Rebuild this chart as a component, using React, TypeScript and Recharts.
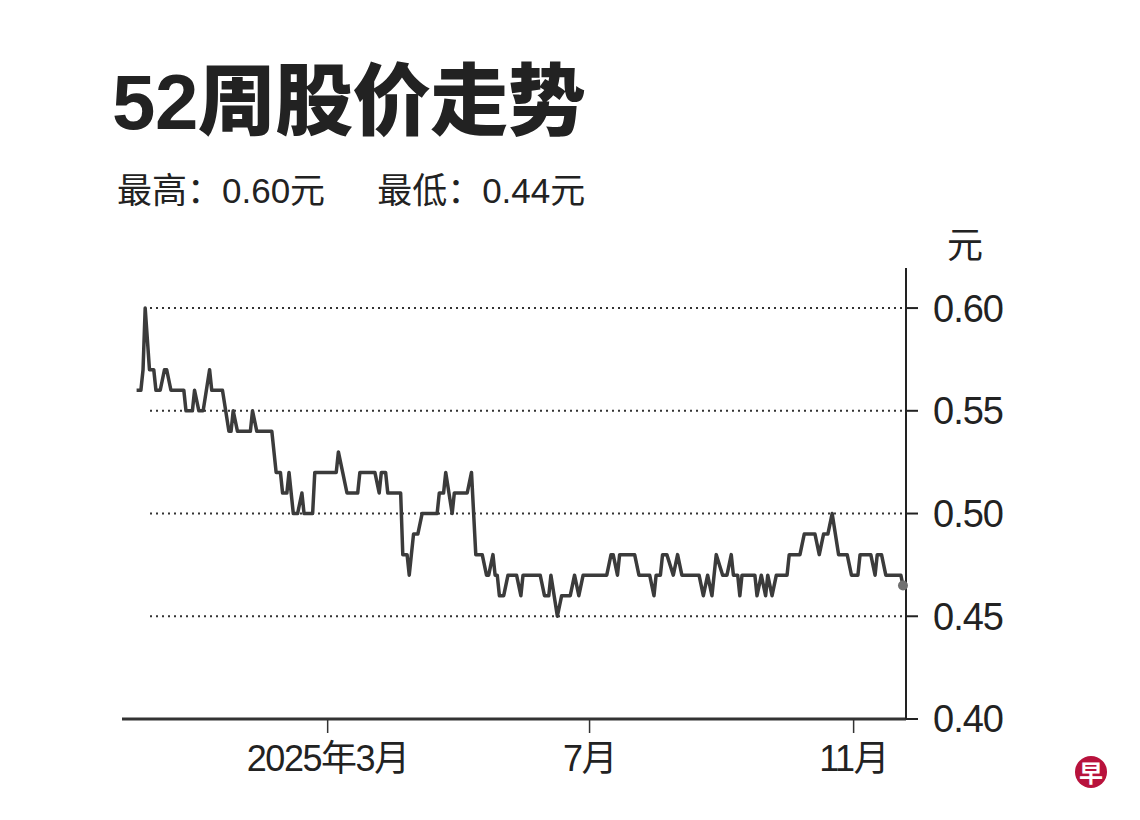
import React from 'react';
import { LineChart, Line, XAxis, YAxis, CartesianGrid } from 'recharts';

// days counted from 2025-03-01, closing price in 元
const days = [
  -89, -87, -86, -85, -83, -81, -80, -78, -76, -75,
  -73, -67, -66, -63, -62, -60, -58, -55, -54, -49,
  -46, -45, -44, -42, -36, -35, -33, -26, -24, -22,
  -21, -19, -18, -16, -14, -12, -11, -7, -6, 4,
  5, 7, 9, 14, 15, 22, 24, 25, 27, 28,
  34, 35, 37, 38, 40, 42, 44, 51, 52, 54,
  55, 58, 59, 65, 67, 69, 72, 74, 75, 77,
  78, 79, 80, 82, 84, 88, 90, 91, 99, 101,
  103, 104, 107, 109, 113, 115, 117, 119, 130, 132,
  133, 135, 136, 143, 145, 150, 152, 153, 155, 156,
  158, 161, 163, 165, 173, 175, 177, 179, 181, 184,
  186, 188, 189, 191, 192, 193, 199, 200, 202, 204,
  205, 207, 209, 214, 215, 220, 222, 227, 229, 231,
  233, 235, 238, 242, 244, 247, 248, 253, 255, 256,
  258, 260, 267, 268,
];
const prices = [
  0.56, 0.56, 0.57, 0.6, 0.57, 0.57, 0.56, 0.56, 0.57, 0.57,
  0.56, 0.56, 0.55, 0.55, 0.56, 0.55, 0.55, 0.57, 0.56, 0.56,
  0.54, 0.54, 0.55, 0.54, 0.54, 0.55, 0.54, 0.54, 0.52, 0.52,
  0.51, 0.51, 0.52, 0.5, 0.5, 0.51, 0.5, 0.5, 0.52, 0.52,
  0.53, 0.52, 0.51, 0.51, 0.52, 0.52, 0.51, 0.52, 0.52, 0.51,
  0.51, 0.48, 0.48, 0.47, 0.49, 0.49, 0.5, 0.5, 0.51, 0.51,
  0.52, 0.5, 0.51, 0.51, 0.52, 0.48, 0.48, 0.47, 0.47, 0.48,
  0.47, 0.47, 0.46, 0.46, 0.47, 0.47, 0.46, 0.47, 0.47, 0.46,
  0.46, 0.47, 0.45, 0.46, 0.46, 0.47, 0.46, 0.47, 0.47, 0.48,
  0.48, 0.47, 0.48, 0.48, 0.47, 0.47, 0.46, 0.47, 0.47, 0.48,
  0.48, 0.47, 0.48, 0.47, 0.47, 0.46, 0.47, 0.46, 0.48, 0.47,
  0.47, 0.48, 0.47, 0.47, 0.46, 0.47, 0.47, 0.46, 0.47, 0.46,
  0.47, 0.46, 0.47, 0.47, 0.48, 0.48, 0.49, 0.49, 0.48, 0.49,
  0.49, 0.5, 0.48, 0.48, 0.47, 0.47, 0.48, 0.48, 0.47, 0.48,
  0.48, 0.47, 0.47, 0.465,
];

const tickDays = [0, 122, 245];
const tickLabels = ['2025年3月', '7月', '11月'];
const priceTicks = [0.4, 0.45, 0.5, 0.55, 0.6];
const gridPrices = [0.45, 0.5, 0.55, 0.6];

const data = days.map((d, i) => ({ day: d, price: prices[i] }));

const NUM_FONT = "'Liberation Sans', 'Noto Sans CJK SC', sans-serif";

const DottedRow = (p: any) => (
  <line key={p.key} x1={p.x1 + 28} y1={p.y1} x2={p.x2} y2={p.y2}
    stroke="#333" strokeWidth={2} strokeDasharray="2 4" />
);

const EndDot = (p: any) =>
  p.index === data.length - 1
    ? <circle key="end" cx={p.cx} cy={p.cy} r={5} fill="#707070" />
    : <g key={p.index} />;

export default function App() {
  return (
    <div style={{ position: 'relative', width: 1140, height: 820, background: '#fff', fontFamily: NUM_FONT, color: '#222' }}>
      <style>{'body{margin:0}'}</style>
      <div style={{ position: 'absolute', left: 112, top: 58, fontSize: 78, fontWeight: 900, lineHeight: '88px', color: '#222', letterSpacing: -0.5 }}>
        52周股价走势
      </div>
      <div style={{ position: 'absolute', left: 117, top: 169, fontSize: 35, lineHeight: '44px', color: '#222' }}>
        <span>最高：0.60元</span>
        <span style={{ marginLeft: 52 }}>最低：0.44元</span>
      </div>
      <div style={{ position: 'absolute', left: 947, top: 224, fontSize: 36, lineHeight: '44px', color: '#222' }}>元</div>

      <LineChart width={1140} height={820} data={data}
        margin={{ top: 268, right: 134, bottom: 41, left: 122 }}
        style={{ position: 'absolute', left: 0, top: 0 }}>
        <CartesianGrid vertical={false} horizontal={DottedRow} horizontalValues={gridPrices} />
        <XAxis dataKey="day" type="number" domain={[-95.8, 269.4]} ticks={tickDays}
          tickFormatter={(v: number) => tickLabels[tickDays.indexOf(v)] ?? ''}
          height={60} tickSize={14} tickMargin={12}
          axisLine={{ stroke: '#333', strokeWidth: 3 }} tickLine={{ stroke: '#333', strokeWidth: 1.5 }}
          tick={{ fontSize: 36, fill: '#222', fontFamily: NUM_FONT, letterSpacing: -1.5 }} />
        <YAxis orientation="right" type="number" domain={[0.4, 0.6195]} ticks={priceTicks}
          allowDataOverflow width={100} tickSize={12} tickMargin={15}
          tickFormatter={(v: number) => v.toFixed(2)}
          axisLine={{ stroke: '#222', strokeWidth: 2 }} tickLine={{ stroke: '#222', strokeWidth: 2 }}
          tick={{ fontSize: 38, fill: '#222', fontFamily: NUM_FONT, letterSpacing: -1 }} />
        <Line dataKey="price" type="linear" stroke="#3b3b3b" strokeWidth={3.5}
          strokeLinejoin="round" dot={EndDot} activeDot={false} isAnimationActive={false} />
      </LineChart>

      <div style={{ position: 'absolute', left: 1075, top: 756, width: 32, height: 32, borderRadius: '50%',
        background: '#b8123c', color: '#fff', fontSize: 24, fontWeight: 700, lineHeight: '32px', textAlign: 'center',
        fontFamily: "'Noto Sans CJK SC', sans-serif" }}>早</div>
    </div>
  );
}
